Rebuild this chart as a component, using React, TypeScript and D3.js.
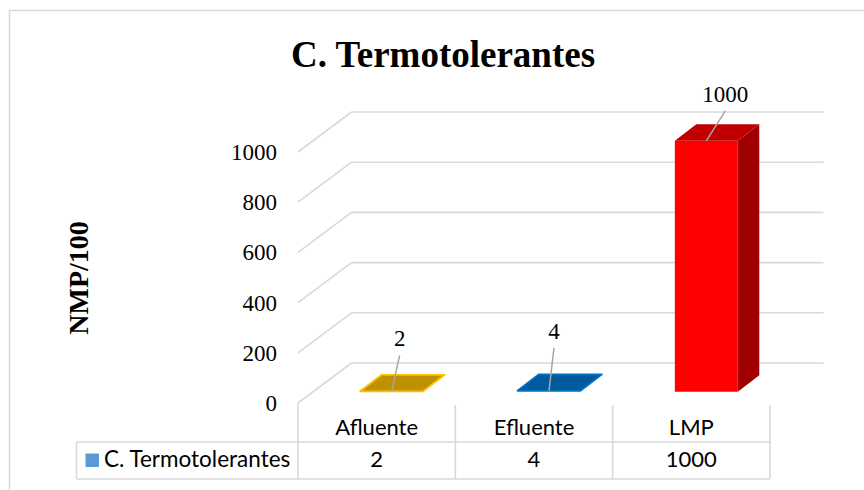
import React from "react";
import * as d3 from "d3";

const categories = ["Afluente", "Efluente", "LMP"];
const values = [2, 4, 1000];
const seriesName = "C. Termotolerantes";
const yTicks = [0, 200, 400, 600, 800, 1000];
const barTop = ["#BF9000", "#005A9E", "#C00000"];
const barFront = ["#BF9000", "#005A9E", "#FF0000"];
const barSide = ["#A07800", "#004A84", "#A00000"];
const barStroke = ["#FFC000", "#0070C0", "none"];
// label offsets (manually placed data labels) relative to bar front-top centre
const labelDx = [8, 5, 19];
const labelDy = [-45, -52, -39];

const W = 864;
const H = 490;
const SERIF = "'Liberation Serif', 'Times New Roman', 'DejaVu Serif', serif";
const SANS = "Lato, 'Open Sans', sans-serif";
const GRID = "#D9D9D9";

export default function App() {
  const floorFrontY = 403;
  const depthX = 53.5;
  const depthY = -40;
  const x = d3.scaleBand<string>().domain(categories).range([298, 770]).padding(0);
  const h = d3.scaleLinear().domain([0, 1000]).range([0, 251]);
  const bw = x.bandwidth() * 0.4;
  const bFrac = 0.28; // bar front depth fraction
  const bDx = 21.5;
  const bDy = -16.5;

  const yFront = (v: number) => floorFrontY - h(v);
  const yBack = (v: number) => floorFrontY + depthY - h(v);
  const x0 = x.range()[0];
  const x1 = x.range()[1];

  const tableTop = 442;
  const tableBottom = 479;
  const legendLeft = 76.5;
  const serif = { fontFamily: SERIF };
  const sans = { fontFamily: SANS };

  return (
    <svg width={W} height={H} style={{ position: "absolute", left: 0, top: 0, background: "#fff" }}>
      <rect x={9.5} y={10.5} width={900} height={520} fill="#fff" stroke={GRID} strokeWidth={1.5} />
      {/* Title */}
      <text x={443} y={66.5} textAnchor="middle" style={serif} fontWeight="bold" fontSize={37} fill="#000">
        C. Termotolerantes
      </text>
      {/* Y axis title */}
      <text
        transform="translate(88,278) rotate(-90)"
        textAnchor="middle"
        style={serif}
        fontWeight="bold"
        fontSize={28}
        fill="#000"
      >
        NMP/100
      </text>
      {/* Gridlines: left wall diagonals and back wall */}
      {yTicks.map((t) => (
        <g key={t}>
          <line x1={x0} y1={yFront(t)} x2={x0 + depthX} y2={yBack(t)} stroke={GRID} strokeWidth={1.6} />
          <line x1={x0 + depthX} y1={yBack(t)} x2={x1 + depthX} y2={yBack(t)} stroke={GRID} strokeWidth={1.6} />
          <text x={277} y={yFront(t) + 8} textAnchor="end" style={serif} fontSize={23} fill="#000">
            {t}
          </text>
        </g>
      ))}
      {/* Bars */}
      {categories.map((c, i) => {
        const bx = (x(c) as number) + (x.bandwidth() - bw) / 2 + bFrac * depthX;
        const by = floorFrontY + bFrac * depthY;
        const top = by - h(values[i]);
        const front = `M${bx},${by}L${bx + bw},${by}L${bx + bw},${top}L${bx},${top}Z`;
        const side = `M${bx + bw},${by}L${bx + bw + bDx},${by + bDy}L${bx + bw + bDx},${top + bDy}L${bx + bw},${top}Z`;
        const topFace = `M${bx},${top}L${bx + bw},${top}L${bx + bw + bDx},${top + bDy}L${bx + bDx},${top + bDy}Z`;
        const cx = bx + bw / 2;
        const lx = cx + labelDx[i];
        const ly = top + labelDy[i];
        const flat = h(values[i]) < 3;
        return (
          <g key={c}>
            {!flat && <path d={side} fill={barSide[i]} />}
            {!flat && <path d={front} fill={barFront[i]} />}
            <path
              d={topFace}
              fill={barTop[i]}
              stroke={flat ? barStroke[i] : "none"}
              strokeWidth={flat ? 1.8 : 0}
              strokeLinejoin="round"
            />
            <line x1={lx} y1={ly + 9} x2={cx} y2={top} stroke="#A6A6A6" strokeWidth={1.5} />
            <text x={lx} y={ly} textAnchor="middle" style={serif} fontSize={23} fill="#000">
              {values[i]}
            </text>
          </g>
        );
      })}
      {/* Data table */}
      <g stroke={GRID} strokeWidth={1.6}>
        <line x1={x0} y1={floorFrontY} x2={x0} y2={tableBottom} />
        {categories.map((c) => {
          const xr = (x(c) as number) + x.bandwidth();
          return <line key={c} x1={xr} y1={floorFrontY + 2} x2={xr} y2={tableBottom} />;
        })}
        <line x1={legendLeft} y1={tableTop} x2={x1} y2={tableTop} />
        <line x1={legendLeft} y1={tableBottom} x2={x1} y2={tableBottom} />
        <line x1={legendLeft} y1={tableTop} x2={legendLeft} y2={tableBottom} />
      </g>
      {categories.map((c, i) => {
        const cx = (x(c) as number) + x.bandwidth() / 2;
        return (
          <g key={c}>
            <text x={cx} y={435} textAnchor="middle" style={sans} fontSize={22} fill="#000">
              {c}
            </text>
            <text x={cx} y={467} textAnchor="middle" style={sans} fontSize={22} fill="#000">
              {values[i]}
            </text>
          </g>
        );
      })}
      <rect x={85.5} y={453.5} width={13.5} height={13.5} fill="#5B9BD5" />
      <text x={104} y={467} style={sans} fontSize={22.5} fill="#000">
        {seriesName}
      </text>
    </svg>
  );
}
